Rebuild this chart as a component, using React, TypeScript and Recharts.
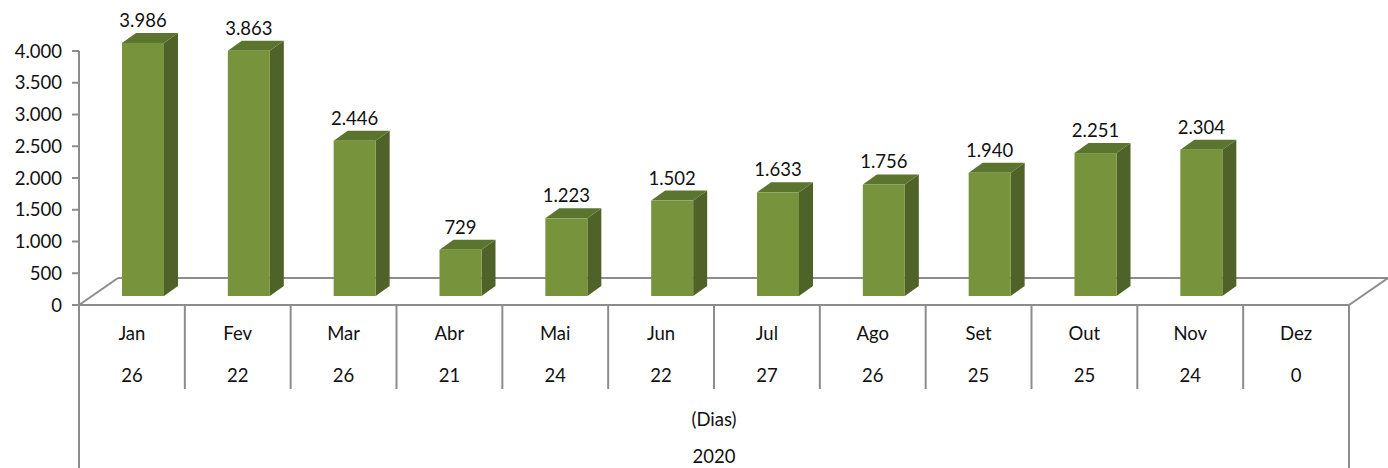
import React from 'react';
import { ComposedChart, Bar, XAxis, YAxis, LabelList, Customized } from 'recharts';

const months = ['Jan', 'Fev', 'Mar', 'Abr', 'Mai', 'Jun', 'Jul', 'Ago', 'Set', 'Out', 'Nov', 'Dez'];
const values = [3986, 3863, 2446, 729, 1223, 1502, 1633, 1756, 1940, 2251, 2304, 0];
const days = [26, 22, 26, 21, 24, 22, 27, 26, 25, 25, 24, 0];
const yTicks = [0, 500, 1000, 1500, 2000, 2500, 3000, 3500, 4000];
const subLabel = '(Dias)';
const yearLabel = '2020';

const data = months.map((m, i) => ({ month: m, value: values[i], days: days[i] }));

const W = 1388;
const H = 468;
const MARGIN = { top: 51, right: 39, left: 0, bottom: 0 };
const Y_AXIS_W = 79;
const X_AXIS_H = 163;
const PLOT_L = MARGIN.left + Y_AXIS_W;
const PLOT_R = W - MARGIN.right;
const PLOT_B = H - X_AXIS_H;
const COL_W = (PLOT_R - PLOT_L) / months.length;
const FLOOR_D = { x: 39, y: 27 };
const BAR_OFF = { x: 11, y: 9 };
const BAR_D = { x: 14, y: 10 };

const FONT = 'Lato, "Open Sans", sans-serif';
const FS = 18.5;
const TXT = '#111111';
const LINE = '#8c8c8c';
const FRONT = '#77933c';
const SIDE = '#4f6228';
const TOP = '#5c752e';

const fmt = (v: number) => String(v).replace(/\B(?=(\d{3})+(?!\d))/g, '.');

const Box3D = (props: any) => {
  const { x, y, width, height, payload } = props;
  if (!payload || !payload.value) return null;
  const fx = x + BAR_OFF.x;
  const fy = y - BAR_OFF.y;
  const w = width;
  const h = height;
  const side = `${fx + w},${fy} ${fx + w + BAR_D.x},${fy - BAR_D.y} ${fx + w + BAR_D.x},${fy + h - BAR_D.y} ${fx + w},${fy + h}`;
  const top = `${fx},${fy} ${fx + BAR_D.x},${fy - BAR_D.y} ${fx + w + BAR_D.x},${fy - BAR_D.y} ${fx + w},${fy}`;
  return (
    <g>
      <polygon points={side} fill={SIDE} />
      <polygon points={top} fill={TOP} />
      <rect x={fx} y={fy} width={w} height={h} fill={FRONT} />
    </g>
  );
};

const ValueLabel = (props: any) => {
  const { x, y, width, value } = props;
  if (!value) return null;
  const cx = x + BAR_OFF.x + width / 2;
  const by = y - BAR_OFF.y - BAR_D.y - 6;
  return (
    <text x={cx} y={by} textAnchor="middle" fontFamily={FONT} fontSize={FS} fill={TXT}>
      {fmt(value)}
    </text>
  );
};

const MonthTick = (props: any) => {
  const { x, payload, index } = props;
  const i = index;
  const right = x + COL_W / 2;
  const left = x - COL_W / 2;
  const isLast = i === months.length - 1;
  return (
    <g>
      {i === 0 && <line x1={left} y1={PLOT_B} x2={left} y2={H} stroke={LINE} strokeWidth={2} />}
      <line x1={right} y1={PLOT_B} x2={right} y2={isLast ? H : PLOT_B + 84} stroke={LINE} strokeWidth={2} />
      <text x={x} y={PLOT_B + 28} dy="0.355em" textAnchor="middle" fontFamily={FONT} fontSize={FS} fill={TXT}>
        {payload.value}
      </text>
      <text x={x} y={PLOT_B + 70} dy="0.355em" textAnchor="middle" fontFamily={FONT} fontSize={FS} fill={TXT}>
        {days[i]}
      </text>
    </g>
  );
};

const Floor = () => (
  <g>
    <line x1={PLOT_L} y1={PLOT_B} x2={PLOT_L + FLOOR_D.x} y2={PLOT_B - FLOOR_D.y} stroke={LINE} strokeWidth={2} />
    <line x1={PLOT_L + FLOOR_D.x} y1={PLOT_B - FLOOR_D.y} x2={PLOT_R + FLOOR_D.x} y2={PLOT_B - FLOOR_D.y} stroke={LINE} strokeWidth={2} />
    <line x1={PLOT_R} y1={PLOT_B} x2={PLOT_R + FLOOR_D.x} y2={PLOT_B - FLOOR_D.y} stroke={LINE} strokeWidth={2} />
    <text x={(PLOT_L + PLOT_R) / 2} y={PLOT_B + 114} dy="0.355em" textAnchor="middle" fontFamily={FONT} fontSize={FS} fill={TXT}>
      {subLabel}
    </text>
    <text x={(PLOT_L + PLOT_R) / 2} y={PLOT_B + 151} dy="0.355em" textAnchor="middle" fontFamily={FONT} fontSize={FS} fill={TXT}>
      {yearLabel}
    </text>
  </g>
);

export default function App() {
  return (
    <div style={{ position: 'absolute', left: 0, top: 0, width: W, height: H, background: '#fff' }}>
      <ComposedChart width={W} height={H} data={data} margin={MARGIN}>
        <Customized component={<Floor />} />
        <YAxis
          width={Y_AXIS_W}
          domain={[0, 4000]}
          ticks={yTicks}
          interval={0}
          tickFormatter={(v: number) => fmt(v)}
          tick={{ fontFamily: FONT, fontSize: FS, fill: TXT }}
          tickSize={7}
          tickMargin={10}
          axisLine={{ stroke: LINE, strokeWidth: 2 }}
          tickLine={{ stroke: LINE, strokeWidth: 2 }}
        />
        <XAxis
          dataKey="month"
          height={X_AXIS_H}
          interval={0}
          tick={<MonthTick />}
          tickLine={false}
          axisLine={{ stroke: LINE, strokeWidth: 2 }}
        />
        <Bar dataKey="value" barSize={42} shape={<Box3D />} isAnimationActive={false}>
          <LabelList dataKey="value" content={<ValueLabel />} />
        </Bar>
      </ComposedChart>
    </div>
  );
}
